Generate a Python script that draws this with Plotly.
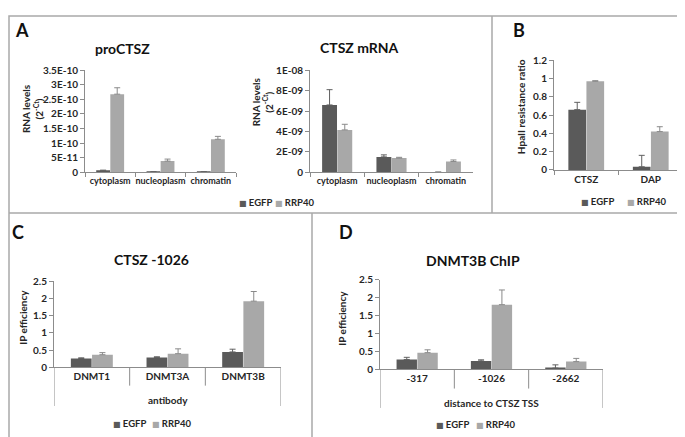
import plotly.graph_objects as go

W, H = 685, 437

# ---------------- data ----------------
a_categories = ["cytoplasm", "nucleoplasm", "chromatin"]

a1_egfp = [5e-12, 1e-12, 1e-12]
a1_egfp_err = [2e-12, 0, 0]
a1_rrp40 = [2.68e-10, 3.8e-11, 1.13e-10]
a1_rrp40_err = [2.2e-11, 7e-12, 1.0e-11]
a1_tickvals = [0, 5e-11, 1e-10, 1.5e-10, 2e-10, 2.5e-10, 3e-10, 3.5e-10]
a1_ticktext = ["0", "5E-11", "1E-10", "1.5E-10", "2E-10", "2.5E-10", "3E-10", "3.5E-10"]

a2_egfp = [6.6e-9, 1.5e-9, 0]
a2_egfp_err = [1.5e-9, 0.2e-9, 0]
a2_rrp40 = [4.15e-9, 1.38e-9, 1.05e-9]
a2_rrp40_err = [0.55e-9, 0.08e-9, 0.15e-9]
a2_tickvals = [0, 2e-9, 4e-9, 6e-9, 8e-9, 1e-8]
a2_ticktext = ["0", "2E-09", "4E-09", "6E-09", "8E-09", "1E-08"]

b_categories = ["CTSZ", "DAP"]
b_egfp = [0.66, 0.035]
b_egfp_err = [0.08, 0.125]
b_rrp40 = [0.97, 0.42]
b_rrp40_err = [0.007, 0.053]
b_tickvals = [0, 0.2, 0.4, 0.6, 0.8, 1.0, 1.2]
b_ticktext = ["0", "0.2", "0.4", "0.6", "0.8", "1", "1.2"]

c_categories = ["DNMT1", "DNMT3A", "DNMT3B"]
c_egfp = [0.26, 0.29, 0.45]
c_egfp_err = [0.02, 0.02, 0.08]
c_rrp40 = [0.37, 0.40, 1.92]
c_rrp40_err = [0.06, 0.14, 0.28]

d_categories = ["-317", "-1026", "-2662"]
d_egfp = [0.27, 0.23, 0.03]
d_egfp_err = [0.06, 0.03, 0.09]
d_rrp40 = [0.46, 1.80, 0.21]
d_rrp40_err = [0.08, 0.41, 0.09]

cd_tickvals = [0, 0.5, 1, 1.5, 2, 2.5]
cd_ticktext = ["0", "0.5", "1", "1.5", "2", "2.5"]

series_names = ["EGFP", "RRP40"]

# ---------------- style ----------------
C_EGFP = "#5a5a5a"
C_RRP = "#a8a8a8"
ERR_EGFP = "#606060"
ERR_RRP = "#8a8a8a"
AXIS_C = "#8c8c8c"
BORDER_C = "#a9a9a9"
TXT = "#262626"
FONT = "Lato"


def X(px):
    return px / W


def Y(py):
    return 1 - py / H


fig = go.Figure()

panels = [
    ("", a_categories, a1_egfp, a1_egfp_err, a1_rrp40, a1_rrp40_err),
    ("2", a_categories, a2_egfp, a2_egfp_err, a2_rrp40, a2_rrp40_err),
    ("3", b_categories, b_egfp, b_egfp_err, b_rrp40, b_rrp40_err),
    ("4", c_categories, c_egfp, c_egfp_err, c_rrp40, c_rrp40_err),
    ("5", d_categories, d_egfp, d_egfp_err, d_rrp40, d_rrp40_err),
]

for suf, cats, eg, ege, rr, rre in panels:
    for name, vals, errs, col, ecol in [
        (series_names[0], eg, ege, C_EGFP, ERR_EGFP),
        (series_names[1], rr, rre, C_RRP, ERR_RRP),
    ]:
        fig.add_trace(go.Bar(
            x=cats, y=vals, name=name, showlegend=False,
            marker=dict(color=col, line=dict(width=0)),
            error_y=dict(type="data", array=errs, arrayminus=[0] * len(errs),
                         symmetric=False, color=ecol, thickness=1, width=3),
            xaxis="x" + suf, yaxis="y" + suf,
        ))

tickfont = dict(family=FONT, size=10, color=TXT, weight="bold")
tickfont_small = dict(family=FONT, size=9, color=TXT, weight="bold")

# axis geometry in pixels: (x0, x1, y_zero, y_top)
geom = {
    "": (77, 228, 162, 57),
    "2": (302, 465, 162, 57),
    "3": (546, 675, 159.7, 46.7),
    "4": (46, 273, 363.3, 274.3),
    "5": (372, 595, 365, 272.7),
}
yinfo = {
    "": ([0, 3.5e-10], a1_tickvals, a1_ticktext),
    "2": ([0, 1e-8], a2_tickvals, a2_ticktext),
    "3": ([0, 1.2], b_tickvals, b_ticktext),
    "4": ([0, 2.5], cd_tickvals, cd_ticktext),
    "5": ([0, 2.5], cd_tickvals, cd_ticktext),
}
ncat = {"": 3, "2": 3, "3": 2, "4": 3, "5": 3}

layout_axes = {}
for suf, (x0, x1, yz, yt) in geom.items():
    xk = "xaxis" + suf
    yk = "yaxis" + suf
    multi = suf in ("4", "5")
    layout_axes[xk] = dict(
        domain=[X(x0), X(x1)], anchor="y" + suf, type="category",
        range=[-0.5, ncat[suf] - 0.5],
        showline=True, linecolor=AXIS_C, linewidth=1,
        ticks="" if multi else "outside", tickson="boundaries",
        ticklen=4, tickcolor=AXIS_C,
        tickfont=tickfont_small if suf in ("", "2") else tickfont, tickangle=0,
        showgrid=False, zeroline=False, fixedrange=True,
    )
    rng, tv, tt = yinfo[suf]
    layout_axes[yk] = dict(
        domain=[Y(yz), Y(yt)], anchor="x" + suf, range=rng,
        tickvals=tv, ticktext=tt,
        showline=True, linecolor=AXIS_C, linewidth=1,
        ticks="outside", ticklen=4, tickcolor=AXIS_C, tickfont=tickfont,
        showgrid=False, zeroline=False, fixedrange=True,
    )

shapes = []
bl = dict(color=BORDER_C, width=1.5)
shapes.append(dict(type="rect", xref="paper", yref="paper", x0=X(1), x1=X(684),
                   y0=Y(436), y1=Y(1), line=bl))
shapes.append(dict(type="line", xref="paper", yref="paper", x0=X(1), x1=X(684),
                   y0=Y(204), y1=Y(204), line=bl))
shapes.append(dict(type="line", xref="paper", yref="paper", x0=X(484), x1=X(484),
                   y0=Y(204), y1=Y(1), line=bl))
shapes.append(dict(type="line", xref="paper", yref="paper", x0=X(304), x1=X(304),
                   y0=Y(436), y1=Y(204), line=bl))

# multi-level category dividers for C and D
for suf, yz, inner_end, outer_end in [("4", 363.3, 382, 403), ("5", 365, 385, 405)]:
    n = ncat[suf]
    for i in range(n + 1):
        b = i - 0.5
        end = outer_end if i in (0, n) else inner_end
        shapes.append(dict(type="line", xref="x" + suf, yref="paper",
                           x0=b, x1=b, y0=Y(yz), y1=Y(end),
                           line=dict(color=AXIS_C, width=1)))

ann = []


def text(x, y, s, size, bold=True, angle=0, color=TXT, xanchor="center"):
    ann.append(dict(x=X(x), y=Y(y), xref="paper", yref="paper", text=s,
                    showarrow=False, textangle=angle, xanchor=xanchor, yanchor="middle",
                    font=dict(family=FONT, size=size, color=color,
                              weight="bold" if bold else "normal")))


# panel letters
text(14, 15, "A", 18, color="#111")
text(511, 15, "B", 18, color="#111")
text(10, 224, "C", 18, color="#111")
text(338, 224, "D", 18, color="#111")

# chart titles
text(115, 35, "proCTSZ", 14, color="#111")
text(351, 33, "CTSZ mRNA", 14, color="#111")
text(143, 252, "CTSZ -1026", 14, color="#111")
text(465, 253, "DNMT3B ChIP", 14, color="#111")

# y-axis titles
text(24, 97, "RNA levels<br>(2<sup>-Ct</sup>)", 10, angle=-90)
text(254, 90, "RNA levels<br>(2<sup>-Ct</sup>)", 10, angle=-90)
text(513, 95, "HpaII resistance ratio", 10, angle=-90)
text(15, 312, "IP efficiency", 10, angle=-90)
text(334, 313, "IP efficiency", 10, angle=-90)

# x-axis (second level) titles
text(160, 397, "antibody", 10)
text(483, 400, "distance to CTSZ TSS", 10)


def legend_item(x, y, name, col):
    ann.append(dict(x=X(x), y=Y(y), xref="paper", yref="paper",
                    text=f'<span style="color:{col};font-family:DejaVu Sans;font-size:8px">■</span> {name}',
                    showarrow=False, xanchor="left", yanchor="middle",
                    font=dict(family=FONT, size=9.5, color=TXT, weight="bold")))


for (xe, xr, yl) in [(229, 265, 193), (571, 617, 192), (103, 142, 421), (426, 466, 422)]:
    legend_item(xe, yl, series_names[0], C_EGFP)
    legend_item(xr, yl, series_names[1], C_RRP)

fig.update_layout(
    width=W, height=H,
    margin=dict(l=0, r=0, t=0, b=0),
    paper_bgcolor="white", plot_bgcolor="white",
    barmode="group", bargap=0.44, bargroupgap=0.02,
    showlegend=False,
    shapes=shapes, annotations=ann,
    font=dict(family=FONT, color=TXT),
    **layout_axes,
)

fig.write_html("out.html")
